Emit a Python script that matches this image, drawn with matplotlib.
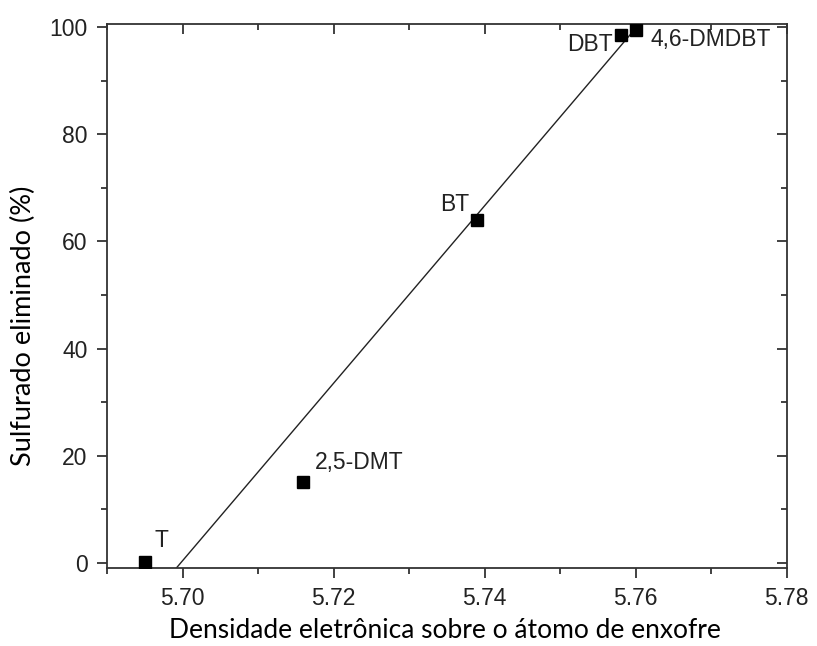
import matplotlib
matplotlib.use("Agg")
import matplotlib.pyplot as plt
from matplotlib.ticker import MultipleLocator

# Measured compounds: electron density on the sulfur atom vs. sulfur removed (%)
compounds = ["T", "2,5-DMT", "BT", "DBT", "4,6-DMDBT"]
densidade = [5.695, 5.716, 5.739, 5.758, 5.760]
removido = [0.2, 15.1, 64.0, 98.5, 99.5]

# Linear fit drawn as a straight segment between its end points
fit_x = [5.6992, 5.7600]
fit_y = [-0.9, 99.8]

# Label placement for each compound (offset in points, alignment)
label_offsets = [(7, 7), (8, 6), (-6, 3), (-6, -7), (11, -7)]
label_ha = ["left", "left", "right", "right", "left"]

x_ticks = [5.70, 5.72, 5.74, 5.76, 5.78]
y_ticks = [0, 20, 40, 60, 80, 100]

fig = plt.figure(figsize=(8.17, 6.46), dpi=100)
ax = fig.add_axes([0.131, 0.121, 0.832, 0.842])

ink = "#222222"
tickc = "#333333"
ax.plot(fit_x, fit_y, color=ink, lw=1.0, zorder=2)
ax.plot(densidade, removido, ls="none", marker="s", ms=8, color="black", zorder=3)

for name, x, y, off, ha in zip(compounds, densidade, removido, label_offsets, label_ha):
    ax.annotate(name, (x, y), xytext=off, textcoords="offset points",
                ha=ha, va="bottom" if off[1] > 0 else "center",
                fontsize=16.5, family="Liberation Sans", color=ink)

ax.set_xlim(5.69, 5.78)
ax.set_ylim(-0.9, 100.6)
ax.set_xticks(x_ticks)
ax.set_xticklabels([f"{v:.2f}" for v in x_ticks])
ax.set_yticks(y_ticks)
ax.xaxis.set_minor_locator(MultipleLocator(0.01))
ax.yaxis.set_minor_locator(MultipleLocator(10))

for s in ax.spines.values():
    s.set_linewidth(1.3)
    s.set_color(tickc)

ax.tick_params(axis="both", which="major", direction="out", length=7, width=1.3,
               color=tickc, labelsize=16.5, labelcolor=ink, pad=7)
ax.tick_params(axis="both", which="minor", direction="out", length=4, width=1.3,
               color=tickc)
for t in ax.xaxis.get_ticklabels() + ax.yaxis.get_ticklabels():
    t.set_family("Liberation Sans")

# mirrored ticks on the top and right frame, pointing inward
top = ax.secondary_xaxis("top")
top.set_xticks(x_ticks)
top.xaxis.set_minor_locator(MultipleLocator(0.01))
top.tick_params(which="major", direction="in", length=7, width=1.3, color=tickc,
                labeltop=False)
top.tick_params(which="minor", direction="in", length=4, width=1.3, color=tickc)
top.spines["top"].set_visible(False)

right = ax.secondary_yaxis("right")
right.set_yticks(y_ticks)
right.yaxis.set_minor_locator(MultipleLocator(10))
right.tick_params(which="major", direction="in", length=7, width=1.3, color=tickc,
                  labelright=False)
right.tick_params(which="minor", direction="in", length=4, width=1.3, color=tickc)
right.spines["right"].set_visible(False)

ax.set_xlabel("Densidade eletrônica sobre o átomo de enxofre", fontsize=19,
              family="Lato", color="black")
ax.xaxis.set_label_coords(0.497, -0.093)
ax.set_ylabel("Sulfurado eliminado (%)", fontsize=19.5, family="Lato",
              color="black")
ax.yaxis.set_label_coords(-0.104, 0.445)

fig.savefig("out.png", dpi=100)
